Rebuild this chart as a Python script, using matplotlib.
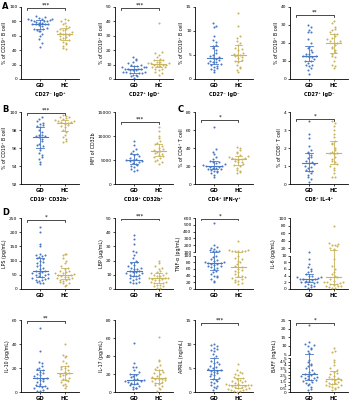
import numpy as np
import matplotlib.pyplot as plt

BLUE = '#4a78c2'
GOLD = '#c9b55c'

# ---- data ----
cd27n_igdp_gd = [88, 86, 85, 84, 83, 83, 82, 82, 81, 80, 80, 79, 78, 78, 77, 77, 76, 76, 75, 73, 71, 70, 70, 68, 67, 66, 63, 60, 55, 50, 45]
cd27n_igdp_hc = [84, 82, 80, 78, 76, 74, 72, 70, 69, 68, 66, 65, 64, 63, 63, 62, 61, 60, 58, 57, 55, 54, 52, 50, 48, 46, 43, 41]

cd27p_igdp_gd = [15, 14, 13, 12, 11, 10, 10, 9, 9, 8, 8, 8, 7, 7, 7, 7, 6, 6, 6, 5, 5, 5, 4, 4, 4, 3, 3, 2, 2, 1]
cd27p_igdp_hc = [39, 19, 18, 17, 15, 14, 13, 13, 12, 12, 11, 11, 11, 10, 10, 10, 9, 9, 8, 8, 7, 7, 6, 5, 4, 3]

cd27n_igdn_gd = [11.6, 11.0, 10.8, 9.0, 8.2, 7.8, 7.0, 6.8, 6.5, 6.0, 5.5, 5.0, 4.8, 4.5, 4.3, 4.2, 4.0, 3.8, 3.6, 3.5, 3.3, 3.2, 3.0, 2.8, 2.5, 2.2, 2.0, 1.8, 1.5]
cd27n_igdn_hc = [13.7, 11.0, 9.0, 8.5, 8.0, 7.5, 7.0, 6.5, 6.2, 6.0, 5.5, 5.2, 5.0, 5.0, 4.8, 4.5, 4.3, 4.0, 3.8, 3.5, 3.0, 2.6, 2.2, 1.8, 1.5]

cd27p_igdn_gd = [30, 29, 27, 26, 26, 22, 20, 18, 17, 16, 15, 14, 14, 13, 13, 13, 12, 12, 11, 10, 10, 9, 8, 8, 7, 6, 5, 3]
cd27p_igdn_hc = [32, 31, 29, 28, 27, 26, 25, 25, 24, 23, 22, 21, 21, 20, 20, 19, 18, 17, 16, 15, 14, 13, 12, 10, 8, 7, 6]

cd32b_pct_gd = [99.4, 99.2, 99.0, 98.8, 98.7, 98.6, 98.5, 98.3, 98.0, 97.8, 97.5, 97.4, 97.3, 97.3, 97.2, 97.0, 96.8, 96.5, 96.3, 96.2, 96.0, 95.8, 95.5, 95.2, 95.0, 94.8, 94.5, 94.2]
cd32b_pct_hc = [99.7, 99.6, 99.5, 99.4, 99.3, 99.2, 99.1, 99.0, 99.0, 98.9, 98.9, 98.8, 98.7, 98.6, 98.5, 98.3, 98.0, 97.8, 97.5, 97.2, 97.0, 96.8, 96.7]

cd32b_mfi_gd = [9000, 8200, 7200, 6800, 6500, 6300, 6000, 5800, 5500, 5200, 5000, 4900, 4800, 4700, 4500, 4300, 4200, 4000, 3800, 3500, 3200, 3000, 2700]
cd32b_mfi_hc = [11800, 11000, 10000, 9500, 9000, 8500, 8300, 8000, 7600, 7200, 7000, 6800, 6700, 6500, 6300, 6000, 5800, 5700, 5500, 5000, 4800, 4500, 4200]

ifng_gd = [63, 39, 36, 33, 30, 28, 26, 25, 24, 23, 22, 21, 20, 20, 19, 19, 18, 18, 17, 17, 16, 15, 14, 13, 12, 10, 8]
ifng_hc = [41, 40, 38, 36, 34, 32, 31, 30, 29, 29, 28, 28, 27, 26, 25, 24, 22, 21, 20, 18, 16, 14, 13, 12]

il4_gd = [3.5, 2.8, 2.55, 2.1, 1.9, 1.8, 1.7, 1.6, 1.5, 1.45, 1.3, 1.2, 1.15, 1.1, 1.0, 0.95, 0.9, 0.8, 0.75, 0.7, 0.6, 0.5, 0.4, 0.3, 0.1]
il4_hc = [3.5, 3.4, 3.2, 3.0, 2.8, 2.6, 2.4, 2.3, 2.2, 2.0, 1.9, 1.8, 1.75, 1.7, 1.65, 1.5, 1.4, 1.3, 1.2, 1.1, 1.0, 0.9, 0.8, 0.6, 0.4, 0.4]

lps_gd = [220, 200, 160, 150, 125, 120, 118, 115, 112, 110, 105, 100, 95, 90, 85, 80, 75, 70, 65, 62, 60, 58, 55, 52, 50, 48, 45, 42, 40, 38, 35, 32, 30, 28, 25, 22, 20]
lps_hc = [125, 122, 120, 110, 100, 90, 80, 75, 70, 65, 62, 60, 58, 55, 52, 50, 48, 46, 44, 42, 40, 38, 35, 32, 30, 28, 25, 22, 20, 15, 10]

lbp_gd = [38, 35, 32, 27, 26, 24, 22, 20, 19, 18, 17, 16, 15, 15, 14, 14, 13, 13, 12, 12, 11, 11, 10, 10, 9, 9, 8, 8, 7, 6, 5, 5, 4, 4]
lbp_hc = [20, 18, 16, 15, 14, 13, 12, 11, 11, 10, 10, 9, 9, 8, 8, 8, 7, 7, 6, 6, 5, 5, 4, 4, 3, 3, 2, 2, 1, 0.5]

tnf_gd = [520, 200, 180, 160, 140, 130, 120, 115, 110, 98, 95, 90, 88, 85, 82, 80, 79, 78, 76, 75, 72, 70, 68, 65, 62, 60, 55, 50, 45, 40, 38, 35, 30, 25, 22]
tnf_hc = [260, 130, 125, 120, 118, 115, 112, 110, 98, 92, 90, 85, 80, 75, 70, 65, 60, 58, 55, 50, 45, 40, 38, 35, 32, 30, 28, 25, 22, 18, 15]

il6_gd = [11, 9, 7.5, 6.5, 6, 5.5, 5, 4.5, 4, 4, 3.5, 3.5, 3.2, 3, 3, 3, 2.8, 2.5, 2.5, 2.2, 2, 2, 1.8, 1.5, 1.2, 1, 0.8, 0.5, 0.3]
il6_hc = [78, 35, 32, 30, 28, 25, 20, 18, 15, 9, 7, 6, 5, 4.5, 4, 3.5, 3, 2.5, 2.2, 2, 2, 1.8, 1.5, 1.5, 1.2, 1, 1, 0.8, 0.5, 0.3, 0.2]

il10_gd = [53, 34, 25, 24, 22, 20, 19, 18, 17, 16, 15, 14, 13, 12, 12, 11, 10, 9, 8, 7, 6, 5, 5, 4, 3, 3, 2, 1, 0.5]
il10_hc = [40, 31, 30, 29, 26, 24, 22, 21, 20, 19, 18, 17, 16, 15, 15, 14, 13, 12, 11, 10, 9, 8, 7, 6, 5, 3]

il17_gd = [55, 32, 28, 28, 25, 22, 20, 19, 18, 17, 15, 14, 13, 12, 12, 11, 10, 10, 9, 8, 7, 6, 5, 4, 3]
il17_hc = [61, 36, 34, 30, 28, 26, 25, 24, 22, 21, 20, 18, 17, 16, 15, 15, 14, 13, 12, 11, 10, 9, 8, 7, 5, 3, 1]

april_gd = [10, 9.8, 9.5, 9.2, 9, 8.8, 8.5, 8, 7.5, 7, 6.5, 6.2, 6, 5.8, 5.5, 5.2, 5, 4.8, 4.5, 4.3, 4.3, 4.2, 4, 3.8, 3.5, 3.3, 3, 2.8, 2.5, 2.2, 2, 1.8, 1.5, 1.2, 1, 0.8, 0.5]
april_hc = [5.8, 4.5, 4.2, 4, 3.8, 3.5, 3.2, 3, 2.8, 2.5, 2.3, 2.2, 2, 1.8, 1.7, 1.6, 1.5, 1.5, 1.4, 1.3, 1.2, 1.1, 1, 0.9, 0.8, 0.7, 0.6, 0.5, 0.4, 0.3, 0.2, 0.1]

baff_gd = [22, 12, 11, 10.5, 10, 9, 8, 7, 6, 4.8, 4.5, 4.2, 4, 3.8, 3.5, 3.2, 3, 2.8, 2.6, 2.5, 2.4, 2.3, 2.2, 2.1, 2, 1.9, 1.8, 1.7, 1.6, 1.5, 1.3, 1.2, 1, 0.8, 0.5, 0.3]
baff_hc = [9, 7, 6.5, 4.8, 4.5, 4, 3.5, 3.2, 3, 2.8, 2.6, 2.4, 2.2, 2, 1.9, 1.8, 1.7, 1.6, 1.5, 1.4, 1.3, 1.2, 1.1, 1, 0.9, 0.8, 0.7, 0.6, 0.5, 0.3]

groups = ['GD', 'HC']

# panel setup: (gd, hc, ylabel, xlabel, ylim, yticks, stars, bracket height, break)
panels = [
    (cd27n_igdp_gd, cd27n_igdp_hc, '% of CD19⁺ B cell', 'CD27⁻ IgD⁺', (0, 100), range(0, 101, 20), '***', 0.99, None),
    (cd27p_igdp_gd, cd27p_igdp_hc, '% of CD19⁺ B cell', 'CD27⁺ IgD⁺', (0, 50), range(0, 51, 10), '***', 0.99, None),
    (cd27n_igdn_gd, cd27n_igdn_hc, '% of CD19⁺ B cell', 'CD27⁻ IgD⁻', (0, 15), range(0, 16, 5), '', 0, None),
    (cd27p_igdn_gd, cd27p_igdn_hc, '% of CD19⁺ B cell', 'CD27⁺ IgD⁻', (0, 40), range(0, 41, 10), '**', 0.89, None),
    (cd32b_pct_gd, cd32b_pct_hc, '% of CD19⁺ B cell', 'CD19⁺ CD32b⁺', (92, 100), range(92, 101, 2), '***', 0.99, None),
    (cd32b_mfi_gd, cd32b_mfi_hc, 'MFI of CD32b', 'CD19⁺ CD32b⁺', (0, 15000), range(0, 15001, 5000), '***', 0.86, None),
    (ifng_gd, ifng_hc, '% of CD4⁺ T cell', 'CD4⁺ IFN-γ⁺', (0, 80), range(0, 81, 20), '*', 0.89, None),
    (il4_gd, il4_hc, '% of CD8⁺ T cell', 'CD8⁺ IL-4⁺', (0, 4), range(0, 5), '*', 0.90, None),
    (lps_gd, lps_hc, 'LPS (pg/mL)', '', (0, 250), range(0, 251, 50), '*', 0.97, None),
    (lbp_gd, lbp_hc, 'LBP (μg/mL)', '', (0, 50), range(0, 51, 10), '***', 0.99, None),
    (tnf_gd, tnf_hc, 'TNF-α (pg/mL)', '', (0, 600), (list(range(0, 101, 20)), list(range(100, 601, 100))), '*', 0.99, 100),
    (il6_gd, il6_hc, 'IL-6 (pg/mL)', '', (0, 100), (list(range(0, 11, 2)), list(range(20, 101, 20))), '', 0, 10),
    (il10_gd, il10_hc, 'IL-10 (pg/mL)', '', (0, 60), range(0, 61, 20), '**', 0.99, None),
    (il17_gd, il17_hc, 'IL-17 (pg/mL)', '', (0, 80), range(0, 81, 20), '', 0, None),
    (april_gd, april_hc, 'APRIL (ng/mL)', '', (0, 15), range(0, 16, 5), '***', 0.96, None),
    (baff_gd, baff_hc, 'BAFF (ng/mL)', '', (0, 25), ([x / 2 for x in range(0, 11)], list(range(5, 26, 5))), '*', 0.96, 5),
]

row_px = [(7, 79), (112, 184), (218, 289), (320, 392)]
col_px = [21, 115, 195, 290]
W, H = 351, 400
LOW_FRAC, GAP = 0.47, 0.05


def make_funcs(ylim, brk):
    lo, hi = ylim
    if brk is None:
        return (lambda y: (np.asarray(y, float) - lo) / (hi - lo),
                lambda v: lo + np.asarray(v, float) * (hi - lo))

    def fwd(y):
        y = np.asarray(y, float)
        return np.where(y <= brk, y / brk * LOW_FRAC,
                        LOW_FRAC + GAP + (y - brk) / (hi - brk) * (1 - LOW_FRAC - GAP))

    def inv(v):
        v = np.asarray(v, float)
        up = brk + (v - LOW_FRAC - GAP) / (1 - LOW_FRAC - GAP) * (hi - brk)
        return np.where(v <= LOW_FRAC, v / LOW_FRAC * brk,
                        np.where(v < LOW_FRAC + GAP, brk, up))
    return fwd, inv


def spread(vals, fwd, step=0.13, nbins=18, maxw=0.5):
    # simple beeswarm: points in the same height band are spread sideways
    v = fwd(vals)
    bins = np.floor(v * nbins).astype(int)
    off = np.zeros(len(v))
    for b in np.unique(bins):
        idx = np.where(bins == b)[0]
        n = len(idx)
        order = idx[np.argsort(v[idx])]
        st = min(step, 2 * maxw / max(n - 1, 1))
        pos = (np.arange(n) - (n - 1) / 2) * st
        pos = pos[np.argsort(np.abs(pos), kind='stable')]
        if b % 2:
            pos = -pos
        off[order] = pos
    return off


fig = plt.figure(figsize=(W / 100, H / 100), dpi=100)

for i, (gd, hc, ylab, xlab, ylim, yt, stars, by, brk) in enumerate(panels):
    r, c = divmod(i, 4)
    top, bot = row_px[r]
    ax = fig.add_axes([col_px[c] / W, 1 - bot / H, 58 / W, (bot - top) / H])
    fwd, inv = make_funcs(ylim, brk)
    if brk is not None:
        ax.set_yscale('function', functions=(fwd, inv))
    ax.set_ylim(*ylim)
    ax.set_xlim(-0.8, 1.6)

    for k, (vals, col) in enumerate(zip([gd, hc], [BLUE, GOLD])):
        vals = np.asarray(vals, float)
        xs = k + spread(vals, fwd)
        ax.scatter(xs, vals, s=2.2, color=col, linewidths=0, zorder=3, clip_on=False)
        q1, med, q3 = np.percentile(vals, [25, 50, 75])
        ax.plot([k - 0.32, k + 0.32], [med, med], color=col, lw=0.8, zorder=4)
        ax.plot([k, k], [q1, q3], color=col, lw=0.6, zorder=4)
        ax.plot([k - 0.16, k + 0.16], [q1, q1], color=col, lw=0.6, zorder=4)
        ax.plot([k - 0.16, k + 0.16], [q3, q3], color=col, lw=0.6, zorder=4)

    if brk is None:
        ax.set_yticks(list(yt))
        ax.set_yticklabels([f'{t:g}' for t in yt])
    else:
        low_t, up_t = yt
        ticks = list(low_t) + [t if t > brk else brk * 1.0001 for t in up_t]
        ax.set_yticks(ticks)
        ax.set_yticklabels([f'{t:g}' for t in low_t] + [f'{t:g}' for t in up_t])
        ax.spines['left'].set_visible(False)
        tr = ax.get_yaxis_transform()
        ax.plot([0, 0], [0, brk], color='black', lw=0.6, transform=tr, clip_on=False)
        ax.plot([0, 0], [brk * 1.0001, ylim[1]], color='black', lw=0.6, transform=tr, clip_on=False)

    ax.set_xticks([0, 1])
    ax.set_xticklabels(groups, fontsize=3.8, fontweight='bold')
    ax.tick_params(axis='y', labelsize=3.2, length=1.5, width=0.5, pad=1)
    ax.tick_params(axis='x', length=1.5, width=0.5, pad=1.5)
    for s in ['top', 'right']:
        ax.spines[s].set_visible(False)
    for s in ['left', 'bottom']:
        ax.spines[s].set_linewidth(0.6)
    ax.set_ylabel(ylab, fontsize=3.4, labelpad=1.5)
    if xlab:
        ax.set_xlabel(xlab, fontsize=3.5, fontweight='bold', labelpad=3)

    if stars:
        ax.plot([-0.55, -0.55, 1.0, 1.0], [by - 0.025, by, by, by - 0.025],
                color='black', lw=0.5, transform=ax.get_xaxis_transform(), clip_on=False)
        ax.text(0.225, by + 0.005, stars, fontsize=4, ha='center', va='bottom',
                transform=ax.get_xaxis_transform())

for lab, x, y in [('A', 2, 2), ('B', 2, 105), ('C', 178, 105), ('D', 2, 208)]:
    fig.text(x / W, 1 - y / H, lab, fontsize=6, fontweight='bold', ha='left', va='top')

fig.savefig('out.png', dpi=100)
